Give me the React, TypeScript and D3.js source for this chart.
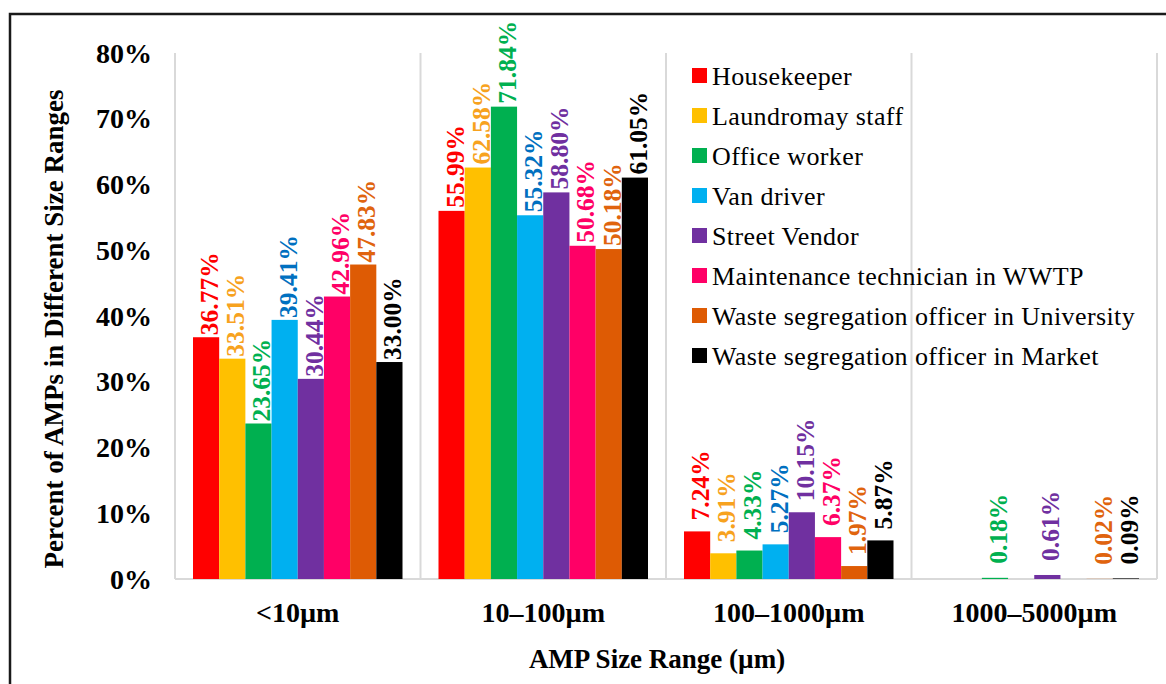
import React from "react";
import * as d3 from "d3";

// Size ranges (x categories)
const categories = ["<10\u00b5m", "10\u2013100\u00b5m", "100\u20131000\u00b5m", "1000\u20135000\u00b5m"];

// Occupational groups (series)
const seriesNames = [
  "Housekeeper",
  "Laundromay staff",
  "Office worker",
  "Van driver",
  "Street Vendor",
  "Maintenance technician in WWTP",
  "Waste segregation officer in University",
  "Waste segregation officer in Market",
];

// Percent of AMPs per size range, one array per group (null = not reported)
const housekeeper = [36.77, 55.99, 7.24, null];
const laundromayStaff = [33.51, 62.58, 3.91, null];
const officeWorker = [23.65, 71.84, 4.33, 0.18];
const vanDriver = [39.41, 55.32, 5.27, null];
const streetVendor = [30.44, 58.8, 10.15, 0.61];
const maintenanceWWTP = [42.96, 50.68, 6.37, null];
const wasteUniversity = [47.83, 50.18, 1.97, 0.02];
const wasteMarket = [33.0, 61.05, 5.87, 0.09];

const seriesValues: (number | null)[][] = [
  housekeeper,
  laundromayStaff,
  officeWorker,
  vanDriver,
  streetVendor,
  maintenanceWWTP,
  wasteUniversity,
  wasteMarket,
];

const yTicks = [0, 10, 20, 30, 40, 50, 60, 70, 80];

const barColors = ["#FF0000", "#FFC000", "#00B050", "#00B0F0", "#7030A0", "#FF0066", "#DE5B04", "#000000"];
const labelColors = ["#FF0000", "#F7A21E", "#00B050", "#0070C0", "#7030A0", "#FF0066", "#E0640E", "#000000"];

const FONT = "'Liberation Serif', 'Times New Roman', serif";

export default function App() {
  const W = 1166;
  const H = 684;
  const plot = { left: 175, right: 1157, top: 53, bottom: 579 };

  const y = d3.scaleLinear().domain([0, 80]).range([plot.bottom, plot.top]);
  const x0 = d3.scaleBand<string>().domain(categories).range([plot.left, plot.right]).padding(0);
  const x1 = d3
    .scaleBand<number>()
    .domain(d3.range(seriesNames.length))
    .range([18, x0.bandwidth() - 18])
    .padding(0);

  // gap between bar top and its rotated value label, per size range
  const labelGap = [2, 3, 11, 14];

  const boundaries = [plot.left, ...categories.map((c) => (x0(c) as number) + x0.bandwidth())];

  return (
    <svg
      width={W}
      height={H}
      style={{ position: "absolute", left: 0, top: 0, background: "#fff" }}
      fontFamily={FONT}
    >
      <rect x={0} y={0} width={W} height={H} fill="#fff" />
      <rect x={10} y={14} width={1180} height={720} fill="none" stroke="#1a1a1a" strokeWidth={2.5} />

      {/* category separators and baseline */}
      {boundaries.map((bx, i) => (
        <line key={"v" + i} x1={bx} x2={bx} y1={plot.top} y2={plot.bottom} stroke="#D9D9D9" strokeWidth={2} />
      ))}
      <line x1={plot.left} x2={plot.right} y1={plot.bottom} y2={plot.bottom} stroke="#D9D9D9" strokeWidth={2} />

      {/* y tick labels */}
      {yTicks.map((t) => (
        <text
          key={"t" + t}
          x={152}
          y={y(t)}
          dy="0.34em"
          textAnchor="end"
          fontSize={28}
          fontWeight="bold"
          fill="#000"
        >
          {t}%
        </text>
      ))}

      {/* bars */}
      {categories.map((c, ci) => (
        <g key={"g" + c} transform={`translate(${x0(c)},0)`}>
          {seriesValues.map((vals, si) => {
            const v = vals[ci];
            if (v === null) return null;
            const bx = x1(si) as number;
            return (
              <rect
                key={"b" + si}
                x={bx}
                y={y(v)}
                width={x1.bandwidth()}
                height={plot.bottom - y(v)}
                fill={barColors[si]}
              />
            );
          })}
        </g>
      ))}

      {/* value labels */}
      {categories.map((c, ci) => (
        <g key={"l" + c} transform={`translate(${x0(c)},0)`}>
          {seriesValues.map((vals, si) => {
            const v = vals[ci];
            if (v === null) return null;
            const cx = (x1(si) as number) + x1.bandwidth() / 2 + 3;
            const ly = y(v) - labelGap[ci];
            return (
              <text
                key={"t" + si}
                transform={`translate(${cx},${ly}) rotate(-90)`}
                dy="0.35em"
                fontSize={25.5}
                fontWeight="bold"
                fill={labelColors[si]}
              >
                {v.toFixed(2)}%
              </text>
            );
          })}
        </g>
      ))}

      {/* category labels */}
      {categories.map((c) => (
        <text
          key={"c" + c}
          x={(x0(c) as number) + x0.bandwidth() / 2}
          y={622}
          textAnchor="middle"
          fontSize={28}
          fontWeight="bold"
          fill="#000"
        >
          {c}
        </text>
      ))}

      {/* axis titles */}
      <text x={657} y={668} textAnchor="middle" fontSize={27} fontWeight="bold" fill="#000">
        AMP Size Range (µm)
      </text>
      <text
        transform={`translate(63,329) rotate(-90)`}
        textAnchor="middle"
        fontSize={27}
        fontWeight="bold"
        fill="#000"
      >
        Percent of AMPs in Different Size Ranges
      </text>

      {/* legend */}
      {seriesNames.map((name, i) => (
        <g key={"lg" + i} transform={`translate(692,${68 + i * 40})`}>
          <rect x={0} y={0} width={15} height={15} fill={barColors[i]} />
          <text x={20} y={17} fontSize={26} letterSpacing={0.4} fill="#000">
            {name}
          </text>
        </g>
      ))}
    </svg>
  );
}
